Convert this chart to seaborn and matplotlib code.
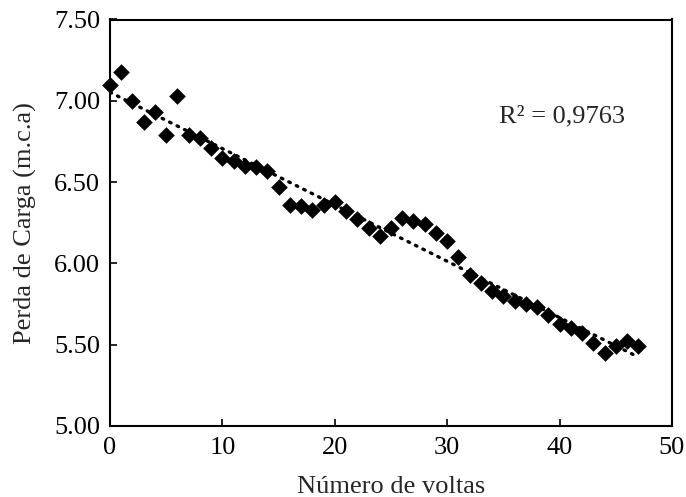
import numpy as np
import pandas as pd
import matplotlib
matplotlib.use("Agg")
import matplotlib.pyplot as plt
import seaborn as sns

voltas = list(range(48))
perda = [7.10, 7.18, 7.00, 6.87, 6.93, 6.79, 7.03, 6.79, 6.77, 6.71,
         6.65, 6.63, 6.60, 6.59, 6.57, 6.47, 6.36, 6.35, 6.33, 6.36,
         6.38, 6.32, 6.27, 6.22, 6.17, 6.22, 6.28, 6.26, 6.24, 6.19,
         6.14, 6.04, 5.93, 5.88, 5.83, 5.80, 5.77, 5.75, 5.73, 5.68,
         5.63, 5.60, 5.57, 5.51, 5.45, 5.49, 5.52, 5.49]
yticks = [5.00, 5.50, 6.00, 6.50, 7.00, 7.50]
xticks = [0, 10, 20, 30, 40, 50]
r2_text = "R² = 0,9763"

df = pd.DataFrame({"x": voltas, "y": perda})

sns.set_style("white")
plt.rcParams['font.family'] = ['Liberation Serif', 'DejaVu Serif']

fig = plt.figure(figsize=(6.86, 4.97), dpi=100)
ax = fig.add_axes([110/686, 1-426/497, (672-110)/686, (426-19.5)/497])

sns.regplot(data=df, x="x", y="y", ax=ax, scatter=False, ci=None,
            line_kws=dict(color="black", lw=2.4, linestyle=(0, (0.5, 2.0)),
                          dash_capstyle="round"))
sns.scatterplot(data=df, x="x", y="y", ax=ax, marker="D", s=72,
                color="black", edgecolor="black", linewidth=0, zorder=3,
                clip_on=False)

ax.set_xlim(0, 50)
ax.set_ylim(5.0, 7.5)
ax.set_xticks(xticks)
ax.set_yticks(yticks)
ax.set_yticklabels([f"{v:.2f}" for v in yticks])
ax.tick_params(axis="both", direction="in", length=5, width=1.2,
               labelsize=19, colors="black", bottom=True, left=True)
ax.tick_params(axis="x", pad=8)
ax.tick_params(axis="y", pad=7)
for sp in ax.spines.values():
    sp.set_visible(True)
    sp.set_color("black")
    sp.set_linewidth(1.5)

ax.set_xlabel("Número de voltas", fontsize=19, labelpad=12)
ax.set_ylabel("Perda de Carga (m.c.a)", fontsize=19, labelpad=12)
ax.text(0.693, 0.762, r2_text, transform=ax.transAxes, fontsize=19,
        ha="left", va="center")

fig.savefig("out.png", dpi=100)
